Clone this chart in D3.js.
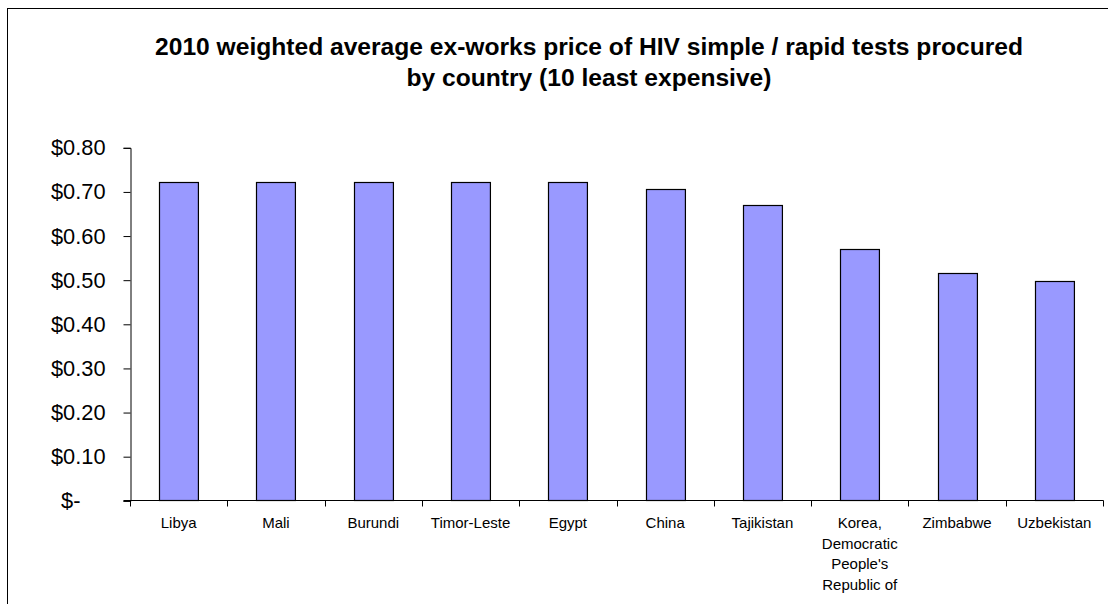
<!DOCTYPE html>
<html>
<head>
<meta charset="utf-8">
<script src="https://cdn.jsdelivr.net/npm/d3@7"></script>
<style>
  html, body { margin: 0; padding: 0; background: #fff; }
  svg { display: block; font-family: "Liberation Sans", Arial, sans-serif; }
</style>
</head>
<body>
<svg id="chart" width="1108" height="604"></svg>
<script>
// Weighted average ex-works price (USD) per HIV simple / rapid test, 2010
const countries = ["Libya", "Mali", "Burundi", "Timor-Leste", "Egypt", "China",
  "Tajikistan", "Korea, Democratic People's Republic of", "Zimbabwe", "Uzbekistan"];
const prices = [0.721, 0.721, 0.721, 0.721, 0.721, 0.705, 0.669, 0.570, 0.514, 0.496];
const yTicks = [0, 0.1, 0.2, 0.3, 0.4, 0.5, 0.6, 0.7, 0.8];
const titleLines = ["2010 weighted average ex-works price of HIV simple / rapid tests procured",
  "by country (10 least expensive)"];
// Category labels broken over lines as they appear under the axis
const labelLines = {
  "Korea, Democratic People's Republic of": ["Korea,", "Democratic", "People's", "Republic of"]
};

const svg = d3.select("#chart");
const W = 1108;

// Chart frame (runs past the right and bottom edges of the view)
svg.append("rect")
  .attr("x", 7.5).attr("y", 8.5)
  .attr("width", W + 100).attr("height", 700)
  .attr("fill", "none").attr("stroke", "#000").attr("stroke-width", 1);

// Title
svg.append("g").selectAll("text").data(titleLines).join("text")
  .attr("x", 589)
  .attr("y", (d, i) => 55 + i * 31)
  .attr("text-anchor", "middle")
  .attr("font-size", 24.6)
  .attr("font-weight", "bold")
  .attr("fill", "#000")
  .text(d => d);

const plotLeft = 130, plotRight = 1103, plotTop = 147.3, plotBottom = 500.3;

const x = d3.scaleBand()
  .domain(countries)
  .range([plotLeft, plotRight])
  .paddingInner(0.6)
  .paddingOuter(0.3);

const y = d3.scaleLinear().domain([0, 0.8]).range([plotBottom, plotTop]);

// Y axis
const yAxis = d3.axisLeft(y)
  .tickValues(yTicks)
  .tickSize(7)
  .tickPadding(18)
  .tickFormat(d => d === 0 ? "$-" : "$" + d3.format(".2f")(d));

const gy = svg.append("g")
  .attr("transform", `translate(${plotLeft + 0.5},0.5)`)
  .call(yAxis);
gy.select(".domain").attr("stroke", "#000");
gy.selectAll(".tick line").attr("stroke", "#000");
gy.selectAll(".tick text")
  .attr("font-family", "'Liberation Sans', Arial, sans-serif")
  .attr("font-size", 21.8)
  .attr("fill", "#000")
  .attr("dx", d => d === 0 ? -25 : 0);

// Bars
svg.append("g").selectAll("rect").data(countries).join("rect")
  .attr("x", d => Math.round(x(d)) + 0.5)
  .attr("y", (d, i) => Math.round(y(prices[i])) + 0.5)
  .attr("width", x.bandwidth())
  .attr("height", (d, i) => Math.round(plotBottom) - Math.round(y(prices[i])))
  .attr("fill", "#9999ff")
  .attr("stroke", "#000")
  .attr("stroke-width", 1.2);

// X axis line and category boundary ticks
const step = x.step();
const xb = svg.append("g").attr("transform", "translate(0.5,0.5)");
xb.append("line")
  .attr("x1", plotLeft - 7).attr("x2", plotRight)
  .attr("y1", Math.round(plotBottom)).attr("y2", Math.round(plotBottom))
  .attr("stroke", "#000");
xb.selectAll("line.tick").data(d3.range(countries.length + 1)).join("line")
  .attr("class", "tick")
  .attr("x1", i => Math.round(plotLeft + i * step)).attr("x2", i => Math.round(plotLeft + i * step))
  .attr("y1", Math.round(plotBottom)).attr("y2", Math.round(plotBottom) + 6)
  .attr("stroke", "#000");

// Category labels
const labels = svg.append("g").selectAll("text").data(countries).join("text")
  .attr("text-anchor", "middle")
  .attr("font-size", 15)
  .attr("fill", "#000")
  .attr("transform", d => `translate(${x(d) + x.bandwidth() / 2},528)`);
labels.selectAll("tspan").data(d => labelLines[d] || [d]).join("tspan")
  .attr("x", 0)
  .attr("y", (d, i) => i * 20.7)
  .text(d => d);
</script>
</body>
</html>
